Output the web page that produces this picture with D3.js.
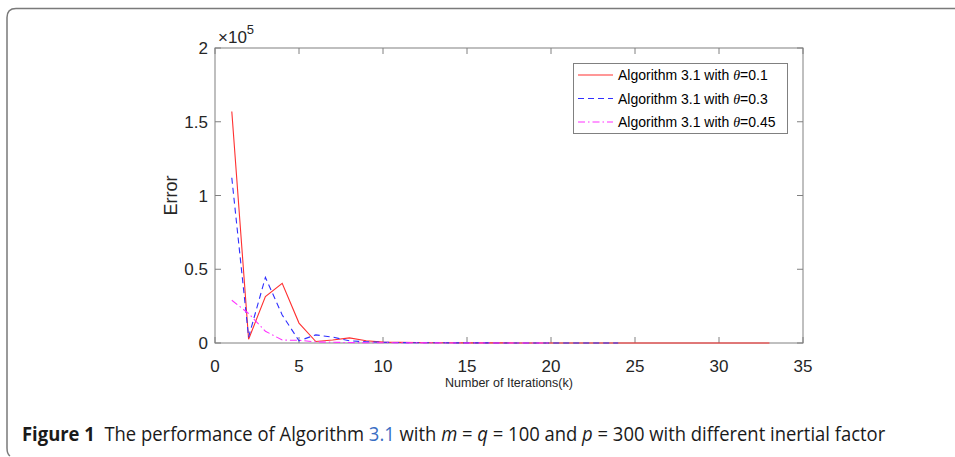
<!DOCTYPE html>
<html>
<head>
<meta charset="utf-8">
<script src="https://cdn.jsdelivr.net/npm/d3@7"></script>
<style>
  body { margin: 0; background: #fff; }
  svg { display: block; }
</style>
</head>
<body>
<div id="chart"></div>
<script>
// iterations k = 1..n, error values
const errTheta01 = [157000, 2500, 31500, 40500, 13500, 1000, 2000, 3500, 1500, 600, 400, 300, 200, 150, 100, 80, 60, 50, 40, 30, 25, 20, 15, 12, 10, 8, 6, 5, 4, 3, 2, 2, 1];
const errTheta03 = [112000, 4000, 44500, 19000, 1500, 5500, 4000, 1500, 800, 500, 300, 200, 150, 100, 80, 60, 40, 30, 20, 15, 10, 8, 5, 3];
const errTheta045 = [29000, 20000, 8000, 2000, 1800, 800, 500, 300, 200, 150, 100, 80, 60, 40, 30, 20, 15, 10, 8, 5];

const seriesNames = ['0.1', '0.3', '0.45'];
const xTicks = [0, 5, 10, 15, 20, 25, 30, 35];
const yTicks = [0, 50000, 100000, 150000, 200000];
const yTickLabels = ['0', '0.5', '1', '1.5', '2'];

const width = 955, height = 457;
const svg = d3.select('#chart').append('svg')
  .attr('width', width)
  .attr('height', height);

// outer figure frame (rounded left corners)
svg.append('path')
  .attr('d', 'M 960 8.5 L 16 8.5 Q 7 8.5 7 17.5 L 7 448 Q 7 454 10 456')
  .attr('fill', 'none')
  .attr('stroke', '#7a7a7a')
  .attr('stroke-width', 1.5);

const x = d3.scaleLinear().domain([0, 35]).range([215, 803]);
const y = d3.scaleLinear().domain([0, 200000]).range([343, 48]);

const axisColor = '#808080';
const textColor = '#262626';
const font = 'Liberation Sans, Arial, sans-serif';

// axes box + inward ticks
const g = svg.append('g');
g.append('rect')
  .attr('x', x(0)).attr('y', y(200000))
  .attr('width', x(35) - x(0)).attr('height', y(0) - y(200000))
  .attr('fill', 'none').attr('stroke', axisColor).attr('stroke-width', 1);

const tl = 6;
xTicks.forEach(t => {
  g.append('line').attr('x1', x(t)).attr('x2', x(t)).attr('y1', y(0)).attr('y2', y(0) - tl)
    .attr('stroke', axisColor);
  g.append('line').attr('x1', x(t)).attr('x2', x(t)).attr('y1', y(200000)).attr('y2', y(200000) + tl)
    .attr('stroke', axisColor);
  g.append('text').attr('x', x(t)).attr('y', y(0) + 29)
    .attr('text-anchor', 'middle')
    .attr('font-family', font).attr('font-size', 17).attr('fill', textColor)
    .text(t);
});
yTicks.forEach((t, i) => {
  g.append('line').attr('x1', x(0)).attr('x2', x(0) + tl).attr('y1', y(t)).attr('y2', y(t))
    .attr('stroke', axisColor);
  g.append('line').attr('x1', x(35)).attr('x2', x(35) - tl).attr('y1', y(t)).attr('y2', y(t))
    .attr('stroke', axisColor);
  g.append('text').attr('x', x(0) - 7).attr('y', y(t) + 6)
    .attr('text-anchor', 'end')
    .attr('font-family', font).attr('font-size', 17).attr('fill', textColor)
    .text(yTickLabels[i]);
});

// exponent label
const expo = g.append('text').attr('x', x(0) + 3).attr('y', y(200000) - 5)
  .attr('font-family', font).attr('font-size', 17).attr('fill', textColor);
expo.append('tspan').text('\u00d710');
expo.append('tspan').attr('dy', -9).attr('font-size', 13).text('5');

// axis labels
g.append('text')
  .attr('transform', `translate(177, ${(y(0) + y(200000)) / 2}) rotate(-90)`)
  .attr('text-anchor', 'middle')
  .attr('font-family', font).attr('font-size', 18).attr('fill', textColor)
  .text('Error');
g.append('text')
  .attr('x', (x(0) + x(35)) / 2).attr('y', 387)
  .attr('text-anchor', 'middle')
  .attr('font-family', font).attr('font-size', 12.5).attr('fill', textColor)
  .text('Number of Iterations(k)');

// lines
const series = [
  { values: errTheta01, color: '#ff3030', dash: 'none' },
  { values: errTheta03, color: '#3030ff', dash: '6,4' },
  { values: errTheta045, color: '#ff30ff', dash: '7,3,1.5,3' }
];
const line = d3.line().x((d, i) => x(i + 1)).y(d => y(d));

series.forEach(s => {
  g.append('path')
    .datum(s.values)
    .attr('d', line)
    .attr('fill', 'none')
    .attr('stroke', s.color)
    .attr('stroke-width', 1.1)
    .attr('stroke-dasharray', s.dash);
});

// legend
const lg = svg.append('g');
lg.append('rect')
  .attr('x', 573.5).attr('y', 63.5).attr('width', 214).attr('height', 70)
  .attr('fill', '#fff').attr('stroke', axisColor);
series.forEach((s, i) => {
  const ly = 75 + i * 23.5;
  lg.append('line').attr('x1', 578).attr('x2', 613).attr('y1', ly).attr('y2', ly)
    .attr('stroke', s.color).attr('stroke-width', 1.2)
    .attr('stroke-dasharray', s.dash);
  const t = lg.append('text').attr('x', 618).attr('y', ly + 5)
    .attr('font-family', font).attr('font-size', 14).attr('fill', '#000');
  t.append('tspan').text('Algorithm 3.1 with ');
  t.append('tspan').attr('font-family', 'Liberation Serif, serif').attr('font-style', 'italic').text('\u03b8');
  t.append('tspan').text('=' + seriesNames[i]);
});

// caption
const cap = svg.append('text')
  .attr('x', 0).attr('y', 0)
  .attr('font-family', 'Open Sans, sans-serif').attr('font-size', 20).attr('fill', '#1a1a1a');
cap.append('tspan').attr('font-weight', 'bold').text('Figure 1');
cap.append('tspan').text('  The performance of Algorithm ').attr('xml:space', 'preserve');
cap.append('tspan').attr('fill', '#3a6fc4').text('3.1');
cap.append('tspan').text(' with ');
cap.append('tspan').attr('font-style', 'italic').text('m');
cap.append('tspan').text(' = ');
cap.append('tspan').attr('font-style', 'italic').text('q');
cap.append('tspan').text(' = 100 and ');
cap.append('tspan').attr('font-style', 'italic').text('p');
cap.append('tspan').text(' = 300 with different inertial factor');
cap.style('white-space', 'pre');
const capW = cap.node().getComputedTextLength();
cap.attr('transform', `translate(22, 441) scale(${864 / capW}, 1)`);
</script>
</body>
</html>
